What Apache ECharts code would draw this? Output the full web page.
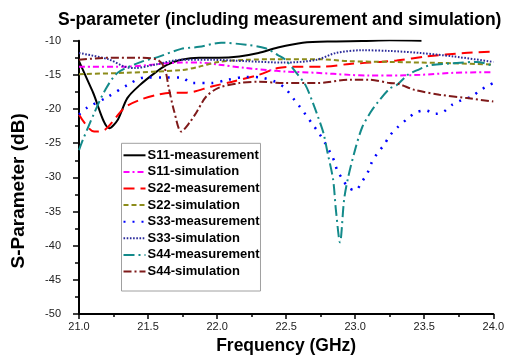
<!DOCTYPE html>
<html><head><meta charset="utf-8">
<script src="https://cdn.jsdelivr.net/npm/echarts@6/dist/echarts.min.js"></script>
<style>html,body{margin:0;padding:0;background:#fff}#c{width:507px;height:360px}</style>
</head><body><div id="c"></div>
<script>
var titleText = "S-parameter (including measurement and simulation)";
var xName = "Frequency (GHz)";
var yName = "S-Parameter (dB)";
var seriesNames = ["S11-measurement","S11-simulation","S22-measurement","S22-simulation","S33-measurement","S33-simulation","S44-measurement","S44-simulation"];

var s11mF = [21.0,21.1,21.22,21.28,21.35,21.44,21.55,21.64,21.74,21.87,22.01,22.16,22.3,22.44,22.62,22.84,23.05,23.25,23.48];
var s11mV = [-13.0,-17.5,-22.8,-21.6,-18.4,-16.5,-14.7,-13.5,-12.8,-12.5,-12.5,-12.3,-11.8,-11.0,-10.3,-10.1,-10.05,-9.95,-10.0];

var s11sF = [21.0,21.33,21.74,21.87,22.01,22.21,22.37,22.49,22.72,22.96,23.1,23.25,23.47,23.71,24.0];
var s11sV = [-13.8,-13.8,-13.2,-13.2,-13.5,-14.0,-14.3,-14.5,-14.7,-15.0,-15.1,-15.1,-15.0,-14.7,-14.6];

var s22mF = [21.0,21.11,21.19,21.33,21.45,21.57,21.69,21.78,21.96,22.11,22.3,22.44,22.55,22.77,22.96,23.18,23.3,23.52,23.79,24.0];
var s22mV = [-20.8,-23.3,-23.0,-19.8,-18.6,-17.9,-17.6,-17.6,-16.7,-16.0,-15.0,-14.0,-13.8,-13.8,-13.4,-13.1,-12.9,-12.3,-11.8,-11.6];

var s22sF = [21.0,21.33,21.74,21.87,22.01,22.21,22.44,22.72,22.96,23.25,23.47,23.71,24.0];
var s22sV = [-14.9,-14.7,-14.3,-13.8,-13.1,-12.8,-12.7,-12.7,-13.0,-13.1,-13.2,-13.3,-13.5];

var s33mF = [21.0,21.06,21.21,21.35,21.47,21.62,21.74,21.82,21.96,22.08,22.21,22.32,22.42,22.49,22.55,22.6,22.64,22.69,22.74,22.78,22.82,22.85,22.87,22.91,22.95,23.0,23.05,23.09,23.12,23.16,23.21,23.25,23.31,23.38,23.44,23.51,23.58,23.64,23.7,23.77,23.84,23.91,23.97,24.0];
var s33mV = [-20.8,-19.8,-18.2,-16.5,-15.4,-15.4,-15.4,-16.2,-16.2,-15.7,-15.3,-15.4,-16.0,-16.9,-18.4,-19.7,-20.8,-22.2,-23.6,-24.9,-26.4,-27.7,-29.0,-30.3,-31.5,-31.9,-30.6,-29.3,-27.8,-26.5,-25.2,-23.9,-22.6,-21.4,-20.5,-20.2,-20.7,-20.4,-19.4,-18.7,-18.2,-17.2,-16.5,-16.2];

var s33sF = [21.0,21.21,21.33,21.4,21.55,21.74,21.96,22.21,22.49,22.72,22.86,23.05,23.25,23.47,23.71,24.0];
var s33sV = [-11.8,-12.7,-13.8,-14.0,-13.5,-12.8,-12.8,-13.0,-13.2,-12.8,-11.8,-11.4,-11.5,-11.8,-12.3,-13.1];

var s44mF = [21.0,21.02,21.11,21.19,21.28,21.45,21.57,21.74,21.87,22.03,22.21,22.35,22.44,22.49,22.57,22.64,22.69,22.73,22.77,22.8,22.84,22.86,22.89,22.92,22.95,23.0,23.05,23.11,23.16,23.25,23.3,23.38,23.45,23.54,23.71,23.88,24.0];
var s44mV = [-26.0,-24.9,-20.6,-17.2,-14.7,-13.1,-12.4,-11.2,-10.9,-10.3,-10.6,-11.1,-12.1,-12.7,-14.6,-16.5,-18.9,-21.1,-23.5,-26.4,-30.3,-34.7,-39.5,-33.2,-29.9,-25.9,-22.7,-20.5,-19.1,-17.0,-16.5,-15.0,-14.3,-13.6,-13.3,-13.1,-13.7];

var s44sF = [21.0,21.21,21.45,21.57,21.62,21.65,21.69,21.74,21.8,21.85,21.92,22.01,22.16,22.3,22.49,22.72,22.96,23.1,23.25,23.31,23.43,23.61,23.81,24.0];
var s44sV = [-12.8,-12.5,-12.5,-12.8,-14.0,-16.9,-20.4,-23.3,-22.0,-20.5,-18.2,-16.9,-16.2,-16.0,-16.2,-16.2,-15.7,-15.7,-16.2,-16.3,-17.2,-17.9,-18.4,-18.9];

var xTicks = [21.0,21.5,22.0,22.5,23.0,23.5,24.0];
var yTicks = [-50,-45,-40,-35,-30,-25,-20,-15,-10];

function zip(f, v){ return f.map(function(x,i){ return [x, v[i]]; }); }

var dataSets = [zip(s11mF,s11mV), zip(s11sF,s11sV), zip(s22mF,s22mV), zip(s22sF,s22sV), zip(s33mF,s33mV), zip(s33sF,s33sV), zip(s44mF,s44mV), zip(s44sF,s44sV)];
var colors = ['#000000','#ff00ff','#ff0000','#8c8c1a','#0000ff','#2a2a9a','#138a8a','#7f1a1a'];
var dashes = ['solid',[6,3,2,3],[11,6],[5,3],[2,7],[1.6,1.6],[11,4,2,4],[8,3,2,3]];
var widths = [2,2,2,2,2.5,2,2,2];

var series = seriesNames.map(function(n,i){
  return {
    name: n, type: 'line', data: dataSets[i], showSymbol: false, symbol: 'none',
    smooth: 0.3,
    lineStyle: { color: colors[i], width: widths[i], type: dashes[i] },
    itemStyle: { color: colors[i] }
  };
});

var chart = echarts.init(document.getElementById('c'), null, {renderer:'canvas'});
chart.setOption({
  animation: false,
  backgroundColor: '#fff',
  title: { text: titleText, left: 53, top: 6,
    textStyle: { fontFamily: 'Liberation Sans, Arial', fontSize: 17.5, fontWeight: 'bold', color: '#000' } },
  grid: { left: 79, right: 10, top: 40.7, bottom: 45.5, containLabel: false },
  legend: {
    orient: 'vertical', left: 121.5, top: 143.3,
    padding: [5.5, 1, 13, 1],
    borderColor: '#a0a0a0', borderWidth: 1, backgroundColor: '#fff',
    itemWidth: 22, itemHeight: 13, itemGap: 3.6,
    itemStyle: { opacity: 0 },
    textStyle: { fontFamily: 'Liberation Sans, Arial', fontSize: 13, fontWeight: 'bold', color: '#000', padding: [0,0,0,-3] },
    data: seriesNames
  },
  xAxis: {
    type: 'value', min: 21, max: 24, interval: 0.5,
    name: xName, nameLocation: 'middle', nameGap: 22,
    nameTextStyle: { fontFamily: 'Liberation Sans, Arial', fontSize: 17.5, fontWeight: 'bold', color: '#000' },
    axisLine: { show: true, lineStyle: { color: '#000', width: 2 } },
    axisTick: { show: true, length: 5, lineStyle: { color: '#000', width: 1.5 } },
    minorTick: { show: true, splitNumber: 2, length: 3, lineStyle: { color: '#000', width: 1.5 } },
    splitLine: { show: false },
    axisLabel: { margin: 7, fontFamily: 'Liberation Sans, Arial', fontSize: 11, color: '#222',
      customValues: xTicks,
      formatter: function(v){ return v.toFixed(1); } }
  },
  yAxis: {
    type: 'value', min: -50, max: -10, interval: 5,
    name: yName, nameLocation: 'middle', nameGap: 51,
    nameTextStyle: { fontFamily: 'Liberation Sans, Arial', fontSize: 19, fontWeight: 'bold', color: '#000', padding: [0, 27, 0, 0] },
    axisLine: { show: true, lineStyle: { color: '#000', width: 2 } },
    axisTick: { show: true, length: 6, lineStyle: { color: '#000', width: 1.5 } },
    minorTick: { show: true, splitNumber: 2, length: 4, lineStyle: { color: '#000', width: 1.5 } },
    splitLine: { show: false },
    axisLabel: { margin: 18, fontFamily: 'Liberation Sans, Arial', fontSize: 11, color: '#222',
      customValues: yTicks }
  },
  series: series
});
</script>
</body></html>
